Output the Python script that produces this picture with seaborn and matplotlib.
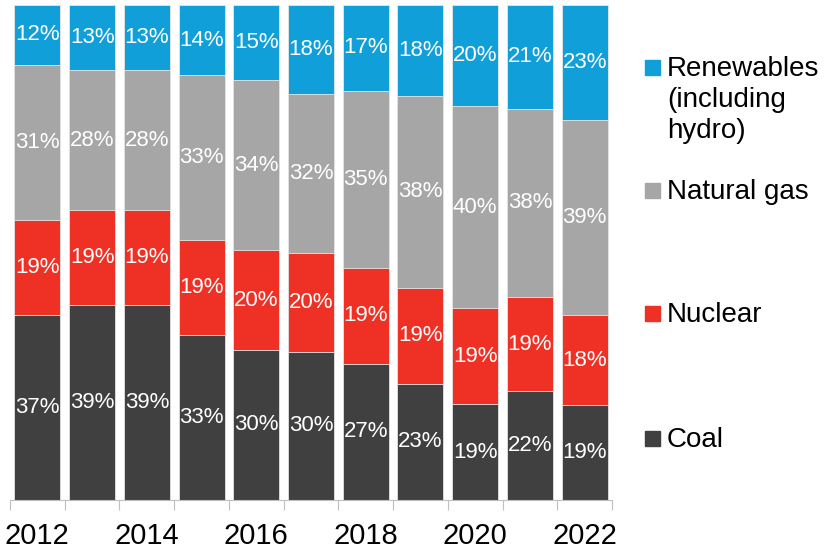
import numpy as np
import pandas as pd
import seaborn as sns
import matplotlib.pyplot as plt
from matplotlib.patches import Rectangle

# data (shares in %)
years = ['2012', '2013', '2014', '2015', '2016', '2017',
         '2018', '2019', '2020', '2021', '2022']
coal = [37, 39, 39, 33, 30, 30, 27, 23, 19, 22, 19]
nuclear = [19, 19, 19, 19, 20, 20, 19, 19, 19, 19, 18]
natural_gas = [31, 28, 28, 33, 34, 32, 35, 38, 40, 38, 39]
renewables = [12, 13, 13, 14, 15, 18, 17, 18, 20, 21, 23]

sources = ['Coal', 'Nuclear', 'Natural gas', 'Renewables\n(including\nhydro)']
colors = ['#404040', '#EE3124', '#A6A6A6', '#119FDA']

plt.rcParams['font.family'] = ['Liberation Sans', 'DejaVu Sans']

df = pd.DataFrame({'year': years, 'Coal': coal, 'Nuclear': nuclear,
                   'Natural gas': natural_gas, 'Renewables': renewables})
cols = ['Coal', 'Nuclear', 'Natural gas', 'Renewables']
# scale each bar to 100%
shares = df[cols].div(df[cols].sum(axis=1), axis=0) * 100
cum = shares.cumsum(axis=1)

fig = plt.figure(figsize=(8.31, 5.5), dpi=100)
ax = fig.add_axes([10 / 831, 50 / 550, 602 / 831, 495 / 550])

# overlay cumulative bars, top layer first
for col, color in reversed(list(zip(cols, colors))):
    sns.barplot(x=df['year'], y=cum[col], color=color, width=0.84,
                edgecolor='#e6e6e6', linewidth=0.6, saturation=1, ax=ax)

# labels in the middle of each segment
for i in range(len(years)):
    for col in cols:
        mid = cum.loc[i, col] - shares.loc[i, col] / 2
        ax.text(i, mid, f'{df.loc[i, col]}%', ha='center', va='center',
                color='white', fontsize=16)

ax.set_xlim(-0.5, len(years) - 0.5)
ax.set_ylim(0, 100)
ax.set_xlabel('')
ax.set_ylabel('')
ax.set_yticks([])
for s in ['left', 'right', 'top']:
    ax.spines[s].set_visible(False)
ax.spines['bottom'].set_color('#bfbfbf')

# boundary tick marks, labels every other year
ax.set_xticks(np.arange(-0.5, len(years)), labels=[''] * (len(years) + 1))
ax.tick_params(axis='x', which='major', length=7, color='#bfbfbf')
ax.set_xticks(np.arange(0, len(years), 2), minor=True)
ax.set_xticklabels(years[::2], minor=True, fontsize=21)
ax.tick_params(axis='x', which='minor', length=0, pad=16)

# legend on the right
legend_y = [67, 190, 313, 438]
for label, color, y in zip(reversed(sources), reversed(colors), legend_y):
    fig.patches.append(Rectangle((645 / 831, 1 - (y + 8) / 550), 15 / 831, 15 / 550,
                                 transform=fig.transFigure, color=color))
    top = y - 11
    fig.text(667 / 831, 1 - top / 550, label, ha='left', va='top',
             fontsize=20, linespacing=1.25)

fig.savefig('out.png', dpi=100)
